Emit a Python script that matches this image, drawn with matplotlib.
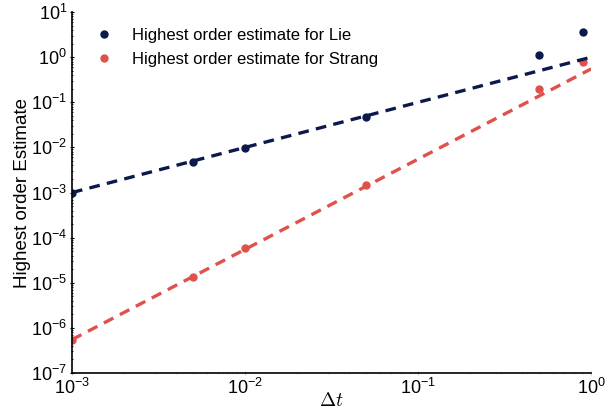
"""Highest order estimate vs time step for Lie and Strang splitting."""

import matplotlib

matplotlib.use("Agg")
import matplotlib.pyplot as plt

# step sizes used in the runs
dt = [1e-3, 5e-3, 1e-2, 5e-2, 0.5, 0.9]
lie_est = [1.0e-3, 4.8e-3, 9.5e-3, 4.8e-2, 1.1, 3.6]
strang_est = [5.5e-7, 1.35e-5, 5.8e-5, 1.5e-3, 0.2, 0.8]

# reference slopes (order 1 and order 2)
dt_ref = [1e-3, 1.0]
lie_ref = [1e-3, 1.0]
strang_ref = [5.5e-7, 0.55]

LIE_COLOR = "#0b1a4a"
STRANG_COLOR = "#e0514b"

plt.rcParams["font.family"] = ["Liberation Sans", "DejaVu Sans"]
plt.rcParams["mathtext.fontset"] = "cm"

fig = plt.figure(figsize=(6.05, 4.17), dpi=100)
ax = fig.add_axes([0.119, 0.1055, 0.858, 0.8655])

ax.plot(dt, lie_est, "o", color=LIE_COLOR, markersize=5, label="Highest order estimate for Lie")
ax.plot(dt, strang_est, "o", color=STRANG_COLOR, markersize=5, label="Highest order estimate for Strang")
ax.plot(dt_ref, lie_ref, linestyle=(0, (3.2, 2.2)), color=LIE_COLOR, linewidth=2.4)
ax.plot(dt_ref, strang_ref, linestyle=(0, (3.2, 2.2)), color=STRANG_COLOR, linewidth=2.4)

ax.set_xscale("log")
ax.set_yscale("log")
ax.set_xlim(1e-3, 1e0)
ax.set_ylim(1e-7, 1e1)

for side in ("top", "right"):
    ax.spines[side].set_visible(False)
for side in ("left", "bottom"):
    ax.spines[side].set_color("black")
    ax.spines[side].set_linewidth(1.2)

ax.tick_params(axis="both", which="major", labelsize=13, length=3, width=0.8, direction="inout", pad=2)
ax.tick_params(axis="both", which="minor", length=2, width=0.6, direction="inout")
ax.tick_params(axis="x", which="both", colors="#cccccc", labelcolor="black")

ax.set_xlabel(r"$\Delta t$", fontsize=14, labelpad=-4)
ax.set_ylabel("Highest order Estimate", fontsize=13.5, labelpad=0)

ax.legend(loc="upper left", frameon=False, fontsize=12, numpoints=1,
          handlelength=1.0, handletextpad=1.2, borderaxespad=0,
          bbox_to_anchor=(0.033, 0.975), labelspacing=0.55)

fig.savefig("out.png", dpi=100)
